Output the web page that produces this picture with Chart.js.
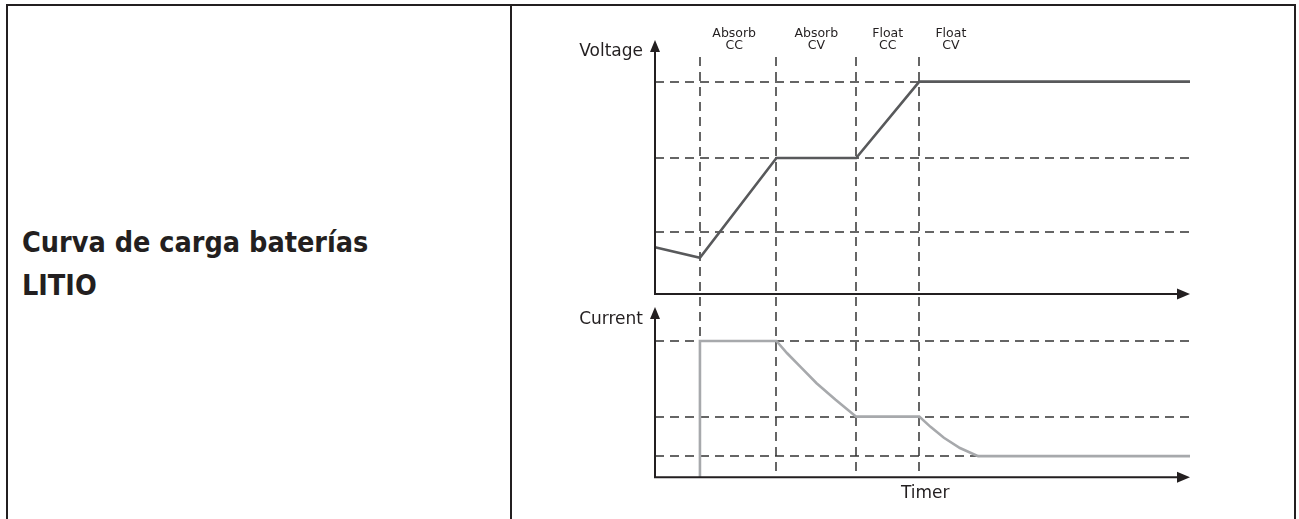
<!DOCTYPE html>
<html>
<head>
<meta charset="utf-8">
<script src="https://cdn.jsdelivr.net/npm/chart.js@4.4.1/dist/chart.umd.min.js"></script>
<style>
  body { margin: 0; background: #fff; }
  #frame { position: absolute; left: 6px; top: 4px; width: 1290px; height: 520px; border: 2px solid #231f20; border-bottom: none; box-sizing: border-box; }
  #divider { position: absolute; left: 510px; top: 4px; width: 2px; height: 520px; background: #231f20; }
  #caption { position: absolute; left: 22px; top: 221px; font-family: "DejaVu Sans Condensed", "DejaVu Sans", sans-serif; font-stretch: condensed; font-weight: bold; font-size: 28.5px; line-height: 43px; color: #231f20; }
  #chart { position: absolute; left: 512px; top: 6px; }
</style>
</head>
<body>
<div id="frame"></div>
<div id="divider"></div>
<div id="caption">Curva de carga baterías<br>LITIO</div>
<canvas id="chart" width="782" height="513"></canvas>
<script>
// charge stages, start time of each one (time axis runs 0..100)
const phaseStart = [8.4, 22.7, 37.6, 49.4];
const phaseTop = ['Absorb', 'Absorb', 'Float', 'Float'];
const phaseBottom = ['CC', 'CV', 'CC', 'CV'];

// voltage curve
const voltTime = [0, 8.4, 22.7, 37.6, 49.4, 100];
const voltValue = [22, 17, 64, 64, 100, 100];
const voltLevels = [29, 64, 100];

// current curve
const currTime = [8.4, 8.4, 22.7, 24.7, 27.2, 30.2, 33.7, 37.6, 49.4, 51.5, 54, 57, 60.4, 100];
const currValue = [0, 100, 100, 91, 81, 69, 57, 44.5, 44.5, 37, 29, 21.5, 15.5, 15.5];
const currLevels = [15.5, 44.5, 100];

const ink = '#231f20';
const font = '"DejaVu Sans", Verdana, sans-serif';

const toPoints = (xs, ys) => xs.map((t, i) => ({ x: t, y: ys[i] }));

function arrowUp(ctx, x, yTip) {
  ctx.beginPath();
  ctx.moveTo(x, yTip);
  ctx.lineTo(x - 5, yTip + 12);
  ctx.lineTo(x + 5, yTip + 12);
  ctx.closePath();
  ctx.fill();
}

function arrowRight(ctx, xTip, y) {
  ctx.beginPath();
  ctx.moveTo(xTip, y);
  ctx.lineTo(xTip - 13, y - 5.5);
  ctx.lineTo(xTip - 13, y + 5.5);
  ctx.closePath();
  ctx.fill();
}

const diagram = {
  id: 'diagram',
  beforeDatasetsDraw(chart) {
    const { ctx, chartArea: a, scales: { x, yV, yI } } = chart;
    ctx.save();
    ctx.strokeStyle = '#333';
    ctx.lineWidth = 1.5;
    ctx.setLineDash([9, 6]);
    ctx.beginPath();
    voltLevels.forEach(v => {
      const y = Math.round(yV.getPixelForValue(v));
      ctx.moveTo(a.left, y);
      ctx.lineTo(a.right, y);
    });
    currLevels.forEach(v => {
      const y = Math.round(yI.getPixelForValue(v));
      ctx.moveTo(a.left, y);
      ctx.lineTo(a.right, y);
    });
    ctx.stroke();
    ctx.beginPath();
    phaseStart.forEach(t => {
      const px = Math.round(x.getPixelForValue(t));
      ctx.moveTo(px, a.top + 17);
      ctx.lineTo(px, a.bottom - 4);
    });
    ctx.stroke();
    ctx.restore();
  },
  afterDraw(chart) {
    const { ctx, chartArea: a, scales: { x, yV, yI } } = chart;
    const x0 = x.getPixelForValue(0);
    const vBase = yV.getPixelForValue(0);
    const iBase = yI.getPixelForValue(0);
    const vTip = yV.getPixelForValue(yV.max);
    const iTip = yI.getPixelForValue(125);
    const xTip = x.getPixelForValue(100);

    ctx.save();
    ctx.strokeStyle = ink;
    ctx.fillStyle = ink;
    ctx.lineWidth = 2;

    // voltage axes
    ctx.beginPath();
    ctx.moveTo(x0, vBase);
    ctx.lineTo(x0, vTip + 8);
    ctx.moveTo(x0 - 1, vBase);
    ctx.lineTo(xTip - 8, vBase);
    ctx.stroke();
    arrowUp(ctx, x0, vTip);
    arrowRight(ctx, xTip, vBase);

    // current axes
    ctx.beginPath();
    ctx.moveTo(x0, iBase);
    ctx.lineTo(x0, iTip + 8);
    ctx.moveTo(x0 - 1, iBase);
    ctx.lineTo(xTip - 8, iBase);
    ctx.stroke();
    arrowUp(ctx, x0, iTip);
    arrowRight(ctx, xTip, iBase);

    // axis names
    ctx.font = '17px ' + font;
    ctx.textAlign = 'right';
    ctx.textBaseline = 'alphabetic';
    ctx.fillText('Voltage', x0 - 12, vTip + 16);
    ctx.fillText('Current', x0 - 12, iTip + 17);
    ctx.textAlign = 'center';
    ctx.fillText('Timer', x.getPixelForValue(50.5), a.bottom + 21);

    // stage names above the dashed dividers
    ctx.font = '12.5px ' + font;
    phaseStart.forEach((t, i) => {
      const end = i + 1 < phaseStart.length ? phaseStart[i + 1] : t + (t - phaseStart[i - 1]);
      const cx = x.getPixelForValue((t + end) / 2) - (i === 0 ? 4 : 0);
      ctx.fillText(phaseTop[i], cx, a.top - 3.5);
      ctx.fillText(phaseBottom[i], cx, a.top + 9);
    });
    ctx.restore();
  }
};

new Chart(document.getElementById('chart'), {
  type: 'line',
  data: {
    datasets: [
      {
        label: 'Voltage',
        data: toPoints(voltTime, voltValue),
        yAxisID: 'yV',
        borderColor: '#58595b',
        borderWidth: 2.6,
        pointRadius: 0,
        tension: 0,
        clip: false
      },
      {
        label: 'Current',
        data: toPoints(currTime, currValue),
        yAxisID: 'yI',
        borderColor: '#a7a9ac',
        borderWidth: 2.6,
        pointRadius: 0,
        tension: 0,
        clip: false
      }
    ]
  },
  options: {
    responsive: false,
    devicePixelRatio: 1,
    animation: false,
    layout: { padding: { left: 143, right: 104, top: 34, bottom: 41.7 } },
    plugins: { legend: { display: false }, tooltip: { enabled: false } },
    scales: {
      x: { type: 'linear', min: 0, max: 100, display: false },
      yV: { type: 'linear', min: -86.4, max: 119.6, display: false },
      yI: { type: 'linear', min: 0, max: 320.8, display: false }
    }
  },
  plugins: [diagram]
});
</script>
</body>
</html>
